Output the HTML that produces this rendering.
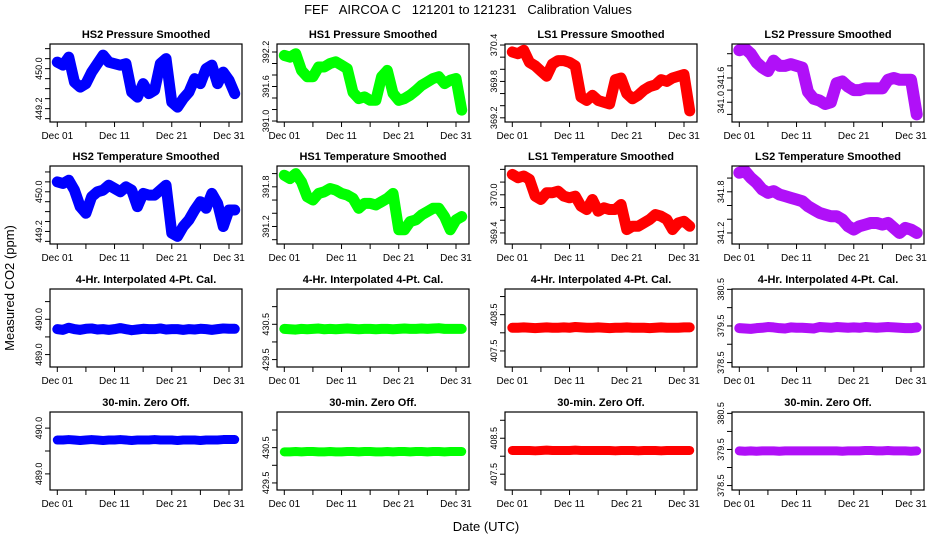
<!DOCTYPE html>
<html><head><meta charset="utf-8"><style>
html,body{margin:0;padding:0;background:#fff;}
svg{display:block;font-family:"Liberation Sans",Arial,sans-serif;}
</style></head><body>
<svg id="chart" width="936" height="540" viewBox="0 0 936 540">
<text x="468" y="14" font-size="13" text-anchor="middle" xml:space="preserve">FEF   AIRCOA C   121201 to 121231   Calibration Values</text>
<text x="0" y="0" font-size="13" text-anchor="middle" transform="translate(14,288) rotate(-90)">Measured CO2 (ppm)</text>
<text x="486" y="531" font-size="13" text-anchor="middle">Date (UTC)</text>
<g id="panels"></g>
</svg>
<script>
const days = [1,2,3,4,5,6,7,8,9,10,11,12,13,14,15,16,17,18,19,20,21,22,23,24,25,26,27,28,29,30,31,32];
const xTickDays = [1,6,11,16,21,26,31];
const xTickLabels = ["Dec 01","","Dec 11","","Dec 21","","Dec 31"];

const hs2Pressure = [450.13,450.07,450.23,449.73,449.63,449.70,449.93,450.10,450.27,450.13,450.10,450.07,450.10,449.53,449.43,449.70,449.50,449.57,450.10,450.20,449.33,449.23,449.40,449.53,449.80,449.70,450.00,450.07,449.70,449.93,449.77,449.50];
const hs1Pressure = [392.14,392.11,392.17,391.88,391.77,391.77,391.94,391.94,392.00,392.03,391.97,391.91,391.50,391.39,391.42,391.36,391.36,391.77,391.88,391.48,391.36,391.39,391.45,391.53,391.62,391.68,391.74,391.77,391.65,391.71,391.74,391.19];
const ls1Pressure = [370.286,370.257,370.314,370.114,370.057,369.971,369.886,370.086,370.143,370.143,370.114,370.057,369.543,369.486,369.571,369.486,369.457,369.429,369.829,369.857,369.600,369.514,369.571,369.657,369.714,369.743,369.829,369.800,369.857,369.886,369.914,369.314];
const ls2Pressure = [342.315,342.359,342.227,342.006,341.874,341.785,342.050,341.918,341.918,341.962,341.918,341.874,341.256,341.079,341.035,340.947,340.991,341.476,341.521,341.388,341.300,341.300,341.344,341.344,341.344,341.344,341.565,341.609,341.565,341.565,341.565,340.682];
const hs2Temp = [450.20,450.167,450.233,450.033,449.70,449.567,449.90,450.00,450.033,450.133,450.067,450.00,450.10,450.033,449.70,449.967,449.933,449.933,450.033,450.133,449.167,449.10,449.30,449.433,449.633,449.80,449.667,449.967,449.767,449.30,449.633,449.633];
const hs1Temp = [391.975,391.925,392.0,391.875,391.65,391.60,391.70,391.725,391.775,391.75,391.70,391.675,391.625,391.475,391.55,391.55,391.525,391.575,391.625,391.70,391.15,391.15,391.275,391.30,391.375,391.425,391.475,391.475,391.35,391.15,391.30,391.35];
const ls1Temp = [370.321,370.268,370.295,370.242,369.979,369.926,370.032,370.032,370.058,369.979,369.953,369.979,369.821,369.768,369.926,369.742,369.795,369.768,369.768,369.847,369.453,369.505,369.505,369.558,369.611,369.689,369.663,369.611,369.453,369.558,369.584,369.505];
const ls2Temp = [342.078,342.102,342.005,341.932,341.834,341.785,341.810,341.761,341.737,341.712,341.688,341.663,341.590,341.541,341.493,341.468,341.444,341.444,341.395,341.298,341.249,341.298,341.322,341.346,341.346,341.322,341.346,341.273,341.200,341.273,341.249,341.200];
const hs2Cal = [489.72,489.70,489.76,489.72,489.70,489.73,489.74,489.71,489.72,489.70,489.72,489.75,489.72,489.69,489.71,489.73,489.72,489.72,489.74,489.71,489.72,489.72,489.70,489.72,489.71,489.73,489.72,489.70,489.72,489.74,489.73,489.73];
const hs1Cal = [430.37,430.36,430.35,430.37,430.36,430.37,430.38,430.36,430.37,430.36,430.37,430.38,430.37,430.36,430.37,430.37,430.36,430.37,430.37,430.36,430.37,430.38,430.37,430.37,430.38,430.37,430.38,430.39,430.37,430.37,430.37,430.37];
const ls1Cal = [408.14,408.14,408.15,408.14,408.13,408.14,408.15,408.14,408.14,408.15,408.14,408.16,408.15,408.14,408.14,408.15,408.14,408.13,408.14,408.14,408.15,408.14,408.14,408.14,408.13,408.14,408.15,408.14,408.14,408.14,408.15,408.15];
const ls2Cal = [379.44,379.43,379.42,379.44,379.45,379.47,379.46,379.44,379.43,379.46,379.45,379.45,379.44,379.43,379.47,379.46,379.45,379.47,379.46,379.45,379.46,379.45,379.47,379.46,379.45,379.46,379.47,379.46,379.45,379.44,379.44,379.46];
const hs2Zero = [489.74,489.74,489.75,489.74,489.73,489.74,489.75,489.74,489.73,489.74,489.74,489.75,489.74,489.73,489.74,489.74,489.74,489.75,489.74,489.74,489.74,489.73,489.74,489.74,489.74,489.73,489.74,489.74,489.74,489.75,489.75,489.75];
const hs1Zero = [430.38,430.38,430.39,430.38,430.39,430.39,430.38,430.38,430.39,430.38,430.38,430.39,430.39,430.38,430.39,430.39,430.38,430.38,430.39,430.38,430.39,430.39,430.38,430.39,430.39,430.38,430.39,430.39,430.38,430.39,430.39,430.39];
const ls1Zero = [408.16,408.16,408.16,408.16,408.15,408.16,408.17,408.16,408.16,408.16,408.16,408.17,408.16,408.16,408.16,408.16,408.16,408.16,408.15,408.16,408.16,408.16,408.15,408.16,408.16,408.16,408.15,408.16,408.16,408.16,408.16,408.16];
const ls2Zero = [379.46,379.45,379.46,379.45,379.46,379.46,379.46,379.45,379.46,379.46,379.46,379.46,379.46,379.46,379.46,379.46,379.46,379.46,379.45,379.46,379.46,379.46,379.47,379.47,379.46,379.46,379.47,379.46,379.46,379.46,379.45,379.46];

const colLeft = [50,277,505,732];
const rowTop = [44,166,289,412];
const W = 192, H = 78;
const colors = ["#0000ff","#00ff00","#ff0000","#b010f8"];

const panels = [
 {t:"HS2 Pressure Smoothed",d:hs2Pressure,lo:448.933,hi:450.493,tk:[450.4,450.2,450.0,449.8,449.6,449.4,449.2,449.0],tl:["","","450.0","","","","449.2",""],bw:11},
 {t:"HS1  Pressure Smoothed",d:hs1Pressure,lo:390.983,hi:392.339,tk:[392.2,392.0,391.8,391.6,391.4,391.2,391.0],tl:["392.2","","","391.6","","","391.0"],bw:11},
 {t:"LS1 Pressure Smoothed",d:ls1Pressure,lo:369.131,hi:370.417,tk:[370.4,370.2,370.0,369.8,369.6,369.4,369.2],tl:["370.4","","","369.8","","","369.2"],bw:11},
 {t:"LS2 Pressure Smoothed",d:ls2Pressure,lo:340.488,hi:342.474,tk:[342.227,341.918,341.609,341.3,340.991,340.682],tl:["","","341.6","","341.0",""],bw:12},
 {t:"HS2 Temperature Smoothed",d:hs2Temp,lo:448.947,hi:450.52,tk:[450.4,450.2,450.0,449.8,449.6,449.4,449.2,449.0],tl:["","","450.0","","","","449.2",""],bw:11},
 {t:"HS1 Temperature Smoothed",d:hs1Temp,lo:390.935,hi:392.115,tk:[392.0,391.8,391.6,391.4,391.2,391.0],tl:["","391.8","","","391.2",""],bw:11},
 {t:"LS1 Temperature Smoothed",d:ls1Temp,lo:369.226,hi:370.453,tk:[370.4,370.2,370.0,369.8,369.6,369.4],tl:["","","370.0","","","369.4"],bw:11},
 {t:"LS2 Temperature Smoothed",d:ls2Temp,lo:341.039,hi:342.176,tk:[342.0,341.8,341.6,341.4,341.2],tl:["","341.8","","","341.2"],bw:12},
 {t:"4-Hr. Interpolated 4-Pt. Cal.",d:hs2Cal,lo:488.648,hi:490.857,tk:[490.5,490.0,489.5,489.0],tl:["","490.0","","489.0"],bw:10},
 {t:"4-Hr. Interpolated 4-Pt. Cal.",d:hs1Cal,lo:429.29,hi:431.5,tk:[431.0,430.5,430.0,429.5],tl:["","430.5","","429.5"],bw:10},
 {t:"4-Hr. Interpolated 4-Pt. Cal.",d:ls1Cal,lo:407.057,hi:409.208,tk:[409.0,408.5,408.0,407.5],tl:["","408.5","","407.5"],bw:10},
 {t:"4-Hr. Interpolated 4-Pt. Cal.",d:ls2Cal,lo:378.379,hi:380.509,tk:[380.5,380.0,379.5,379.0,378.5],tl:["380.5","","379.5","","378.5"],bw:10},
 {t:"30-min. Zero Off.",d:hs2Zero,lo:488.648,hi:490.352,tk:[490.5,490.0,489.5,489.0],tl:["","490.0","","489.0"],bw:9},
 {t:"30-min. Zero Off.",d:hs1Zero,lo:429.3,hi:431.51,tk:[431.0,430.5,430.0,429.5],tl:["","430.5","","429.5"],bw:9},
 {t:"30-min. Zero Off.",d:ls1Zero,lo:407.06,hi:409.23,tk:[409.0,408.5,408.0,407.5],tl:["","408.5","","407.5"],bw:9},
 {t:"30-min. Zero Off.",d:ls2Zero,lo:378.377,hi:380.538,tk:[380.5,380.0,379.5,379.0,378.5],tl:["380.5","","379.5","","378.5"],bw:9}
];

const NS = "http://www.w3.org/2000/svg";
const root = document.getElementById("panels");
function mk(tag, attrs, parent){
  const e = document.createElementNS(NS, tag);
  for (const k in attrs) e.setAttribute(k, attrs[k]);
  parent.appendChild(e);
  return e;
}
panels.forEach((p, i) => {
  const c = i % 4, r = Math.floor(i / 4);
  const L = colLeft[c], T = rowTop[r];
  const xs = d => L + 7.3 + (d - 1) * (171.7 / 30);
  const ys = v => T + (p.hi - v) / (p.hi - p.lo) * H;
  const g = mk("g", {}, root);
  
  
  const title = mk("text", {x: L + W / 2, y: T - 6, "font-size": 11, "font-weight": "bold", "text-anchor": "middle"}, g);
  title.textContent = p.t;
  
  
  const cp = mk("clipPath", {id: "clip" + i}, g);
  mk("rect", {x: L, y: T, width: W, height: H}, cp);
  const pts = p.d.map((v, k) => xs(days[k]).toFixed(2) + "," + ys(v).toFixed(2)).join(" ");
  const band = mk("polyline", {points: pts, fill: "none", stroke: colors[c], "stroke-width": p.bw, "stroke-linejoin": "round", "stroke-linecap": "round", "clip-path": "url(#clip" + i + ")"}, g);
  
  
  const box = mk("rect", {x: L, y: T, width: W, height: H, fill: "none", stroke: "#000", "stroke-width": 1.2}, g);
  
  
  xTickDays.forEach((d, k) => {
    const x = xs(d);
    const tk = mk("line", {x1: x, x2: x, y1: T + H, y2: T + H + 5, stroke: "#000", "stroke-width": 1}, g);
    
    
    if (xTickLabels[k]) {
      const tl = mk("text", {x: x, y: T + H + 17, "font-size": 10, "text-anchor": "middle"}, g);
      tl.textContent = xTickLabels[k];
      
      
    }
  });
  p.tk.forEach((v, k) => {
    const y = ys(v);
    if (y < T - 0.5 || y > T + H + 0.5) return;
    const tk = mk("line", {x1: L - 5, x2: L, y1: y, y2: y, stroke: "#000", "stroke-width": 1}, g);
    
    
    if (p.tl[k]) {
      const tl = mk("text", {x: 0, y: 0, "font-size": 9, "text-anchor": "middle", transform: "translate(" + (L - 8) + "," + y.toFixed(1) + ") rotate(-90)"}, g);
      tl.textContent = p.tl[k];
      
      
    }
  });
});
</script>
</body></html>
